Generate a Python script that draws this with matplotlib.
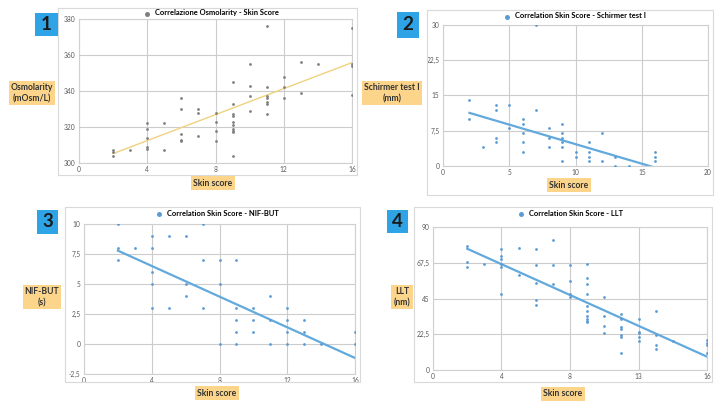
import numpy as np
import matplotlib
matplotlib.use("Agg")
import matplotlib.pyplot as plt
from matplotlib.patches import Rectangle

plt.rcParams["font.family"] = ["Lato", "DejaVu Sans"]

W, H = 721, 407

# panel 1: osmolarity
osm_x = [2, 2, 2, 3, 4, 4, 4, 4, 4, 5, 5, 6, 6, 6, 6, 6, 7, 7, 7, 8, 8, 8, 8,
         9, 9, 9, 9, 9, 9, 9, 9, 9, 9, 10, 10, 10, 10, 11, 11, 11, 11, 11, 11, 11,
         12, 12, 12, 13, 13, 14, 16, 16, 16, 16]
osm_y = [307, 306, 304, 307, 322, 319, 314, 309, 308, 322, 307, 336, 330, 316, 313, 312,
         330, 328, 315, 328, 323, 318, 312,
         345, 333, 327, 326, 323, 321, 319, 318, 317, 304, 355, 343, 337, 329,
         376, 342, 337, 336, 334, 333, 327, 348, 342, 336, 356, 339, 355, 375, 355, 354, 338]
osm_fit = (3.61, 298.0)

# panel 2: schirmer
sch_x = [2, 2, 3, 4, 4, 4, 4, 5, 5, 6, 6, 6, 6, 6, 7, 7, 8, 8, 8,
         9, 9, 9, 9, 9, 9, 10, 10, 11, 11, 11, 11, 12, 12, 13, 13, 14, 16, 16, 16]
sch_y = [14, 10, 4, 13, 12, 6, 5, 13, 8, 10, 9, 7, 5, 3, 30, 12, 8, 6, 4,
         9, 7, 6, 5, 4, 1, 3, 2, 5, 3, 2, 1, 7, 1, 2, 0, 0, 3, 2, 1]
sch_fit = (-0.831, 12.96)

# panel 3: NIF-BUT
but_x = [2, 2, 2, 3, 4, 4, 4, 4, 4, 5, 5, 6, 6, 6, 7, 7, 7, 8, 8, 8,
         9, 9, 9, 9, 9, 10, 10, 10, 11, 11, 11, 12, 12, 12, 12, 13, 13, 13, 14, 16, 16]
but_y = [10, 8, 7, 8, 9, 8, 6, 5, 3, 9, 3, 9, 5, 4, 10, 7, 3, 7, 5, 0,
         7, 3, 2, 1, 0, 3, 2, 1, 4, 2, 0, 3, 2, 1, 0, 2, 1, 0, 0, 1, 0]
but_fit = (-0.639, 9.06)

# panel 4: LLT
llt_x = [2, 2, 2, 3, 4, 4, 4, 4, 4, 4, 5, 5, 6, 6, 6, 6, 6, 7, 7, 7, 8, 8, 8, 8,
         9, 9, 9, 9, 9, 9, 9, 9, 9, 9, 10, 10, 10, 10, 11, 11, 11, 11, 11, 11, 11,
         12, 12, 12, 12, 12, 13, 13, 13, 13, 14, 16, 16, 16, 16]
llt_y = [78, 68, 65, 67, 76, 72, 70, 67, 65, 48, 77, 60, 76, 66, 55, 44, 41, 82, 66, 54,
         66, 56, 48, 46, 67, 58, 54, 48, 40, 37, 34, 32, 31, 30, 46, 34, 28, 23,
         35, 32, 27, 26, 22, 21, 11, 32, 24, 23, 21, 18, 37, 22, 16, 13, 18, 19, 17, 16, 11]
llt_fit = (-4.85, 86.0)

GRAY = "#7f7f7f"
BLUE = "#5b9bd5"
LINE_BLUE = "#62a9dd"
YELLOW = "#f0d27e"
BADGE = "#2ea3e6"
LABEL_BG = "#fcd58b"


def box(x0, y0, x1, y1):
    return [x0 / W, 1 - y1 / H, (x1 - x0) / W, (y1 - y0) / H]


def fx(x):
    return x / W


def fy(y):
    return 1 - y / H


def panel(fig, frame, axbox, xs, ys, fit, mcol, lcol, lw, title, leg_xy,
          xlim, ylim, xticks, xtl, yticks, ytl, badge, badge_box, ylab, ylab_xy, xlab_xy):
    fig.add_artist(Rectangle((fx(frame[0]), fy(frame[3])), fx(frame[2] - frame[0]),
                             (frame[3] - frame[1]) / H, transform=fig.transFigure,
                             fill=False, edgecolor="#d9d9d9", lw=0.8))
    ax = fig.add_axes(box(*axbox))
    ax.set_xlim(*xlim)
    ax.set_ylim(*ylim)
    ax.set_xticks(xticks)
    ax.set_xticklabels(xtl)
    ax.set_yticks(yticks)
    ax.set_yticklabels(ytl)
    ax.tick_params(length=0, labelsize=4.8, labelcolor="#595959", pad=2.5)
    ax.grid(True, color="#cccccc", lw=0.8)
    ax.set_axisbelow(True)
    for s in ax.spines.values():
        s.set_color("#d0d0d0")
        s.set_linewidth(0.8)
    sc = ax.scatter(xs, ys, s=4, color=mcol, lw=0, label=title, zorder=3)
    xx = np.array([min(xs), max(xs)])
    ax.plot(xx, fit[0] * xx + fit[1], color=lcol, lw=lw, zorder=2)
    fig.legend(handles=[sc], labels=[title], loc="center",
               bbox_to_anchor=(fx(leg_xy[0]), fy(leg_xy[1])),
               frameon=False, handlelength=0.6, handletextpad=0.8, markerscale=1.8,
               prop={"size": 5.4, "weight": "bold"})
    fig.add_artist(Rectangle((fx(badge_box[0]), fy(badge_box[3])),
                             fx(badge_box[2] - badge_box[0]),
                             (badge_box[3] - badge_box[1]) / H,
                             transform=fig.transFigure, color=BADGE, lw=0))
    fig.text(fx((badge_box[0] + badge_box[2]) / 2), fy((badge_box[1] + badge_box[3]) / 2),
             badge, ha="center", va="center", fontsize=13.5, fontweight="bold", color="#1a1a1a")
    fig.text(fx(ylab_xy[0]), fy(ylab_xy[1]), ylab, ha="center", va="center",
             fontsize=6.2, fontweight="bold", color="#333333", linespacing=1.3,
             bbox=dict(boxstyle="square,pad=0.25", fc=LABEL_BG, ec="none"))
    fig.text(fx(xlab_xy[0]), fy(xlab_xy[1]), "Skin score", ha="center", va="center",
             fontsize=6.2, fontweight="bold", color="#333333",
             bbox=dict(boxstyle="square,pad=0.25", fc=LABEL_BG, ec="none"))
    return ax


fig = plt.figure(figsize=(W / 100, H / 100), dpi=100)

panel(fig, (58, 8, 357, 175), (79, 19, 352, 163), osm_x, osm_y, osm_fit, GRAY, YELLOW, 1.0,
      "Correlazione Osmolarity - Skin Score", (212, 13),
      (0, 16), (300, 380), [0, 4, 8, 12, 16], ["0", "4", "8", "12", "16"],
      [300, 320, 340, 360, 380], ["300", "320", "340", "360", "380"],
      "1", (35, 13, 58, 36), "Osmolarity\n(mOsm/L)", (32, 93), (213, 183))

panel(fig, (427, 10, 713, 195), (443, 25, 708, 166), sch_x, sch_y, sch_fit, BLUE, LINE_BLUE, 1.6,
      "Correlation Skin Score - Schirmer test I", (575, 16),
      (0, 20), (0, 30), [0, 5, 10, 15, 20], ["0", "5", "10", "15", "20"],
      [0, 7.5, 15, 22.5, 30], ["0", "7,5", "15", "22,5", "30"],
      "2", (397, 12, 419, 38), "Schirmer test I\n(mm)", (392, 93), (569, 185))

panel(fig, (65, 207, 360, 382), (84, 224, 355, 374), but_x, but_y, but_fit, BLUE, LINE_BLUE, 1.6,
      "Correlation Skin Score - NIF-BUT", (218, 213),
      (0, 16), (-2.5, 10), [0, 4, 8, 12, 16], ["0", "4", "8", "12", "16"],
      [-2.5, 0, 2.5, 5, 7.5, 10], ["-2,5", "0", "2,5", "5", "7,5", "10"],
      "3", (37, 210, 58, 234), "NIF-BUT\n(s)", (42, 297), (217, 393))

panel(fig, (414, 207, 712, 382), (433, 227, 707, 370), llt_x, llt_y, llt_fit, BLUE, LINE_BLUE, 1.6,
      "Correlation Skin Score - LLT", (571, 213),
      (0, 16), (0, 90), [0, 4, 8, 12, 16], ["0", "4", "8", "13", "16"],
      [0, 22.5, 45, 67.5, 90], ["0", "22,5", "45", "67,5", "90"],
      "4", (387, 210, 408, 233), "LLT\n(nm)", (402, 297), (563, 394))

fig.savefig("out.png", dpi=100)
